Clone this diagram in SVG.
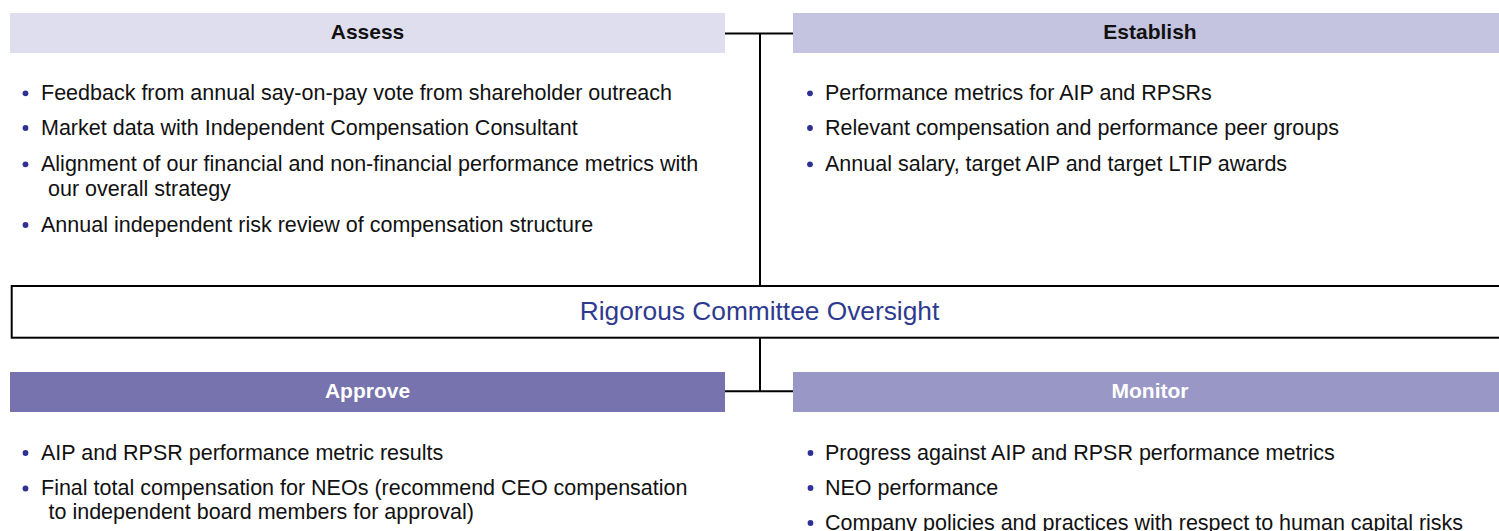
<svg xmlns="http://www.w3.org/2000/svg" width="1499" height="531" viewBox="0 0 1499 531">
<style>
.hd{font-family:"Liberation Sans",Arial,sans-serif;font-size:21px;font-weight:bold;text-anchor:middle}
.dark{fill:#111}
.light{fill:#fff}
.tx{font-family:"Liberation Sans",Arial,sans-serif;font-size:21.5px;fill:#111}
.bl{fill:#2e3192}
.ln{stroke:#000;stroke-width:2;fill:none}
</style>
<rect width="1499" height="531" fill="#fff"/>
<g id="connectors">
<path class="ln" d="M725 33.5H793M760 33.5V286"/>
<path class="ln" d="M760 338V391.3M725 391.3H793"/>
</g>
<g id="oversight">
<rect x="11.7" y="286" width="1500" height="51.7" fill="#fff" stroke="#000" stroke-width="2"/>
<text x="759.5" y="320" text-anchor="middle" font-family="Liberation Sans, Arial, sans-serif" font-size="26.3" fill="#2e3a8f">Rigorous Committee Oversight</text>
</g>
<g id="assess">
<rect x="10" y="13" width="715" height="40" fill="#dedeef"/>
<text class="hd dark" x="367.5" y="39">Assess</text>
<circle class="bl" cx="25.5" cy="93.3" r="2.9"/>
<text class="tx" x="41" y="100">Feedback from annual say-on-pay vote from shareholder outreach</text>
<circle class="bl" cx="25.5" cy="128" r="2.9"/>
<text class="tx" x="41" y="134.7">Market data with Independent Compensation Consultant</text>
<circle class="bl" cx="25.5" cy="164.3" r="2.9"/>
<text class="tx" x="41" y="171">Alignment of our financial and non-financial performance metrics with</text>
<text class="tx" x="48" y="195.5">our overall strategy</text>
<circle class="bl" cx="25.5" cy="225" r="2.9"/>
<text class="tx" x="41" y="231.7">Annual independent risk review of compensation structure</text>
</g>
<g id="establish">
<rect x="793" y="13" width="714" height="40" fill="#c5c4e0"/>
<text class="hd dark" x="1150" y="39">Establish</text>
<circle class="bl" cx="810" cy="93.3" r="2.9"/>
<text class="tx" x="825" y="100">Performance metrics for AIP and RPSRs</text>
<circle class="bl" cx="810" cy="128" r="2.9"/>
<text class="tx" x="825" y="134.7">Relevant compensation and performance peer groups</text>
<circle class="bl" cx="810" cy="164.3" r="2.9"/>
<text class="tx" x="825" y="171">Annual salary, target AIP and target LTIP awards</text>
</g>
<g id="approve">
<rect x="10" y="372" width="715" height="40" fill="#7673ae"/>
<text class="hd light" x="367.5" y="398">Approve</text>
<circle class="bl" cx="25.5" cy="453" r="2.9"/>
<text class="tx" x="41" y="459.5">AIP and RPSR performance metric results</text>
<circle class="bl" cx="25.5" cy="488.5" r="2.9"/>
<text class="tx" x="41" y="495">Final total compensation for NEOs (recommend CEO compensation</text>
<text class="tx" x="48.5" y="518.5">to independent board members for approval)</text>
</g>
<g id="monitor">
<rect x="793" y="372" width="714" height="40" fill="#9997c6"/>
<text class="hd light" x="1150" y="398">Monitor</text>
<circle class="bl" cx="810.5" cy="453" r="2.9"/>
<text class="tx" x="825" y="459.5">Progress against AIP and RPSR performance metrics</text>
<circle class="bl" cx="810.5" cy="488" r="2.9"/>
<text class="tx" x="825" y="494.5">NEO performance</text>
<circle class="bl" cx="810.5" cy="523" r="2.9"/>
<text class="tx" x="825" y="529.5">Company policies and practices with respect to human capital risks</text>
</g>
</svg>
